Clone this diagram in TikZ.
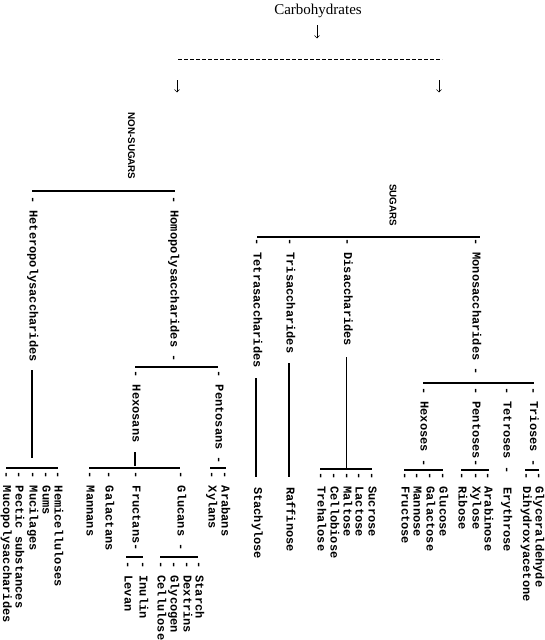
\documentclass[tikz,border=0pt]{standalone}
\usepackage{fontspec}
\setmainfont{Liberation Serif}
\newfontfamily\tw{Liberation Mono}
\newfontfamily\sansf{Liberation Sans}
\usetikzlibrary{arrows.meta}
\tikzset{
  lab/.style={rotate=-90, anchor=mid west, inner sep=0pt, outer sep=0pt,
    font=\tw\bfseries\fontsize{12}{12}\selectfont},
  cat/.style={rotate=-90, anchor=center, inner sep=0pt,
    font=\sansf\bfseries\fontsize{9.8}{10}\selectfont},
  bar/.style={line width=1.6pt},
  vline/.style={line width=1.1pt},
  arr/.style={line width=0.6pt, -{Straight Barb[length=2.6pt,width=5pt]}},
}
\begin{document}
\begin{tikzpicture}[x=1pt,y=-1pt]
\path[use as bounding box] (0,0) rectangle (544,640);
% top
\node[font=\fontsize{15}{15}\selectfont, inner sep=0pt] (carb) at (318,11) {Carbohydrates};
\coordinate (a0s) at (317,25); \coordinate (a0e) at (317,38.5);
\draw[arr] (a0s) -- (a0e);
\coordinate (dl) at (178,59); \coordinate (dr) at (442,59);
\draw[line width=1pt, dash pattern=on 4.2pt off 1.8pt] (dl) -- (dr);
\coordinate (a1s) at (177,80); \coordinate (a1e) at (177,92.5);
\coordinate (a2s) at (439,80); \coordinate (a2e) at (439,92.5);
\draw[arr] (a1s) -- (a1e);
\draw[arr] (a2s) -- (a2e);
% categories
\node[cat] (ns) at (131.5,146) {NON-SUGARS};
\node[cat] (sg) at (393,205) {SUGARS};
% NON-SUGARS branch
\coordinate (nsL) at (32,191); \coordinate (nsR) at (175,191);
\draw[bar] (nsL) -- (nsR);
\node[lab] (hetero) at (32,196) {- Heteropolysaccharides};
\node[lab] (homo) at (173,196) {- Homopolysaccharides -};
\coordinate (heL1) at (32,370); \coordinate (heL2) at (32,458);
\draw[vline] (heL1) -- (heL2);
\coordinate (hbL) at (6,468); \coordinate (hbR) at (58,468);
\draw[bar] (hbL) -- (hbR);
\node[lab] (muco) at (5.5,471.5) {- Mucopolysaccharides};
\node[lab] (pectic) at (18,471.5) {- Pectic substances};
\node[lab] (mucil) at (32,471.5) {- Mucilages};
\node[lab] (gums) at (45,471.5) {- Gums};
\node[lab] (hemi) at (57,471.5) {- Hemicelluloses};
\coordinate (hoL) at (135,367); \coordinate (hoR) at (218,367);
\draw[bar] (hoL) -- (hoR);
\node[lab] (hexosans) at (135,370.5) {- Hexosans};
\node[lab] (pentosans) at (218,370.5) {- Pentosans -};
\coordinate (hxL1) at (135,452); \coordinate (hxL2) at (135,466);
\draw[vline] (hxL1) -- (hxL2);
\coordinate (hxbL) at (89,468); \coordinate (hxbR) at (180,468);
\draw[bar] (hxbL) -- (hxbR);
\node[lab] (mannans) at (89,471.5) {- Mannans};
\node[lab] (galactans) at (108,471.5) {- Galactans};
\node[lab] (fructans) at (135,471.5) {- Fructans-};
\node[lab] (glucans) at (180,471.5) {- Glucans -};
\coordinate (pnbL) at (210,468); \coordinate (pnbR) at (226,468);
\draw[bar] (pnbL) -- (pnbR);
\node[lab] (xylans) at (211,471.5) {- Xylans};
\node[lab] (arabans) at (224,471.5) {- Arabans};
\coordinate (frbL) at (126,557); \coordinate (frbR) at (143,557);
\draw[bar] (frbL) -- (frbR);
\node[lab] (levan) at (127,561) {- Levan};
\node[lab] (inulin) at (142,561) {- Inulin};
\coordinate (glbL) at (160,557); \coordinate (glbR) at (198,557);
\draw[bar] (glbL) -- (glbR);
\node[lab] (cellulose) at (160,561) {- Cellulose};
\node[lab] (glycogen) at (173,561) {- Glycogen};
\node[lab] (dextrins) at (186,561) {- Dextrins};
\node[lab] (starch) at (198,561) {- Starch};
% SUGARS branch
\coordinate (sgL) at (257,237); \coordinate (sgR) at (480,237);
\draw[bar] (sgL) -- (sgR);
\node[lab] (tetra) at (256,238) {- Tetrasaccharides};
\node[lab] (tri) at (289,238) {- Trisaccharides};
\node[lab] (di) at (346.5,238) {- Disaccharides};
\node[lab] (mono) at (475,238) {- Monosaccharides -};
\coordinate (teL1) at (256,378); \coordinate (teL2) at (256,477);
\draw[vline] (teL1) -- (teL2);
\node[lab] (stachylose) at (256.5,487) {Stachylose};
\coordinate (trL1) at (289,363); \coordinate (trL2) at (289,477);
\draw[vline] (trL1) -- (trL2);
\node[lab] (raffinose) at (289,487) {Raffinose};
\coordinate (diL1) at (346.5,357); \coordinate (diL2) at (346.5,469);
\draw[vline] (diL1) -- (diL2);
\coordinate (dibL) at (320,469); \coordinate (dibR) at (372,469);
\draw[bar] (dibL) -- (dibR);
\node[lab] (trehalose) at (320,472) {- Trehalose};
\node[lab] (cellobiose) at (333,472) {- Cellobiose};
\node[lab] (maltose) at (346,472) {- Maltose};
\node[lab] (lactose) at (358,472) {- Lactose};
\node[lab] (sucrose) at (371,472) {- Sucrose};
\coordinate (mobL) at (423,383); \coordinate (mobR) at (534,383);
\draw[bar] (mobL) -- (mobR);
\node[lab] (hexoses) at (423,387) {- Hexoses -};
\node[lab] (pentoses) at (475,387) {- Pentoses-};
\node[lab] (tetroses) at (506,387) {- Tetroses -};
\node[lab] (trioses) at (532.5,387) {- Trioses -};
\coordinate (hsbL) at (404,470); \coordinate (hsbR) at (443,470);
\draw[bar] (hsbL) -- (hsbR);
\node[lab] (fructose) at (404,472) {- Fructose};
\node[lab] (mannose) at (416,472) {- Mannose};
\node[lab] (galactose) at (429,472) {- Galactose};
\node[lab] (glucose) at (442,472) {- Glucose};
\coordinate (psbL) at (461,470); \coordinate (psbR) at (489,470);
\draw[bar] (psbL) -- (psbR);
\node[lab] (ribose) at (461,472) {- Ribose};
\node[lab] (xylose) at (475,472) {- Xylose};
\node[lab] (arabinose) at (487,472) {- Arabinose};
\node[lab] (erythrose) at (506,487) {Erythrose};
\coordinate (tsbL) at (525,470); \coordinate (tsbR) at (539,470);
\draw[bar] (tsbL) -- (tsbR);
\node[lab] (dihydroxy) at (525.5,472) {- Dihydroxyacetone};
\node[lab] (glycer) at (538,472) {- Glyceraldehyde};
\end{tikzpicture}
\end{document}
